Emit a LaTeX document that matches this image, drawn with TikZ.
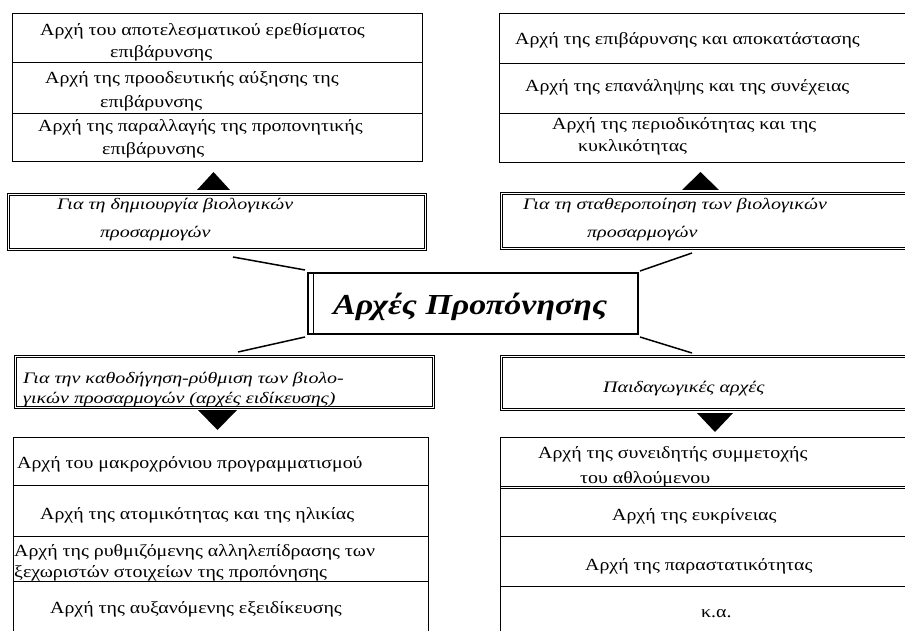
\documentclass[tikz,border=0pt]{standalone}
\usepackage{fontspec}
\setmainfont{Liberation Serif}
\newfontfamily\wideserif[FakeStretch=1.17]{Liberation Serif}
\newfontfamily\wideslant[FakeStretch=1.25]{Liberation Serif}
\newfontfamily\widetitle[FakeStretch=1.17]{Liberation Serif}
\newcommand\plainsz{\wideserif\fontsize{17pt}{20pt}\selectfont}
\newcommand\slantsz{\wideslant\fontsize{16pt}{20pt}\selectfont\itshape}
\newcommand\titlesz{\widetitle\fontsize{29pt}{34pt}\selectfont\bfseries\itshape}
\tikzset{
  cell/.style={draw, line width=0.8pt, anchor=north west, inner sep=0pt},
  frame/.style={draw, double, line width=0.8pt, double distance=1.3pt,
                anchor=north west, inner sep=0pt},
  core/.style={draw, line width=2pt, anchor=north west, inner sep=0pt},
  txt/.style={anchor=base west, inner sep=0pt, font=\plainsz},
  itxt/.style={anchor=base west, inner sep=0pt, font=\slantsz},
  spoke/.style={line width=1.5pt},
  pointer/.style={fill=black}
}
\begin{document}
\begin{tikzpicture}[x=1pt, y=-1pt]
\useasboundingbox (0,0) rectangle (905,631);
\clip (0,0) rectangle (905,631);

% upper left group: principles creating adaptations
\node[cell, minimum width=410pt, minimum height=49pt] (tl1) at (12,13) {};
\node[cell, minimum width=410pt, minimum height=51pt] (tl2) at (12,62) {};
\node[cell, minimum width=410pt, minimum height=48pt] (tl3) at (12,113) {};
\node[txt] (tl1a) at (40,36) {Αρχή του αποτελεσματικού ερεθίσματος};
\node[txt] (tl1b) at (110,58) {επιβάρυνσης};
\node[txt] (tl2a) at (45,84) {Αρχή της προοδευτικής αύξησης της};
\node[txt] (tl2b) at (100,108) {επιβάρυνσης};
\node[txt] (tl3a) at (38,132) {Αρχή της παραλλαγής της προπονητικής};
\node[txt] (tl3b) at (102,155) {επιβάρυνσης};

% upper right group: principles stabilising adaptations
\node[cell, minimum width=430pt, minimum height=50pt] (tr1) at (499,13) {};
\node[cell, minimum width=430pt, minimum height=50pt] (tr2) at (499,63) {};
\node[cell, minimum width=430pt, minimum height=49pt] (tr3) at (499,113) {};
\node[txt] (tr1a) at (515,45) {Αρχή της επιβάρυνσης και αποκατάστασης};
\node[txt] (tr2a) at (525,92) {Αρχή της επανάληψης και της συνέχειας};
\node[txt] (tr3a) at (552,130) {Αρχή της περιοδικότητας και της};
\node[txt] (tr3b) at (578,152) {κυκλικότητας};

% category frames
\node[frame, minimum width=417pt, minimum height=55pt] (ml) at (8,194) {};
\node[itxt] (mla) at (57,210) {Για τη δημιουργία βιολογικών};
\node[itxt] (mlb) at (100,238) {προσαρμογών};

\node[frame, minimum width=430pt, minimum height=55pt] (mr) at (501,193) {};
\node[itxt] (mra) at (523,210) {Για τη σταθεροποίηση των βιολογικών};
\node[itxt] (mrb) at (587,238) {προσαρμογών};

\node[frame, minimum width=418pt, minimum height=51pt] (bl) at (15,356) {};
\node[itxt] (bla) at (23,383) {Για την καθοδήγηση-ρύθμιση των βιολο-};
\node[itxt] (blb) at (23,403) {γικών προσαρμογών (αρχές ειδίκευσης)};

\node[frame, minimum width=430pt, minimum height=53pt] (br) at (501,356) {};
\node[itxt] (bra) at (603,392) {Παιδαγωγικές αρχές};

% central title
\node[core, minimum width=330pt, minimum height=61pt] (hub) at (307,272) {};
\draw[line width=0.8pt] ([xshift=6pt]hub.north west) -- ([xshift=6pt]hub.south west);
\node[anchor=base west, inner sep=0pt, font=\titlesz] (huba) at (333,314) {Αρχές Προπόνησης};

% spokes from the title
\coordinate (s1) at (233,257);
\coordinate (s2) at (692,253);
\coordinate (s3) at (238,352);
\coordinate (s4) at (692,353);
\draw[spoke] ([shift={(-2pt,2pt)}]hub.north west) -- (s1);
\draw[spoke] ([shift={(1pt,1pt)}]hub.north east) -- (s2);
\draw[spoke] ([shift={(-2pt,-2pt)}]hub.south west) -- (s3);
\draw[spoke] ([shift={(1pt,-2pt)}]hub.south east) -- (s4);

% pointers
\fill[pointer] (197,190) -- (213.5,172) -- (230,190) -- cycle;
\fill[pointer] (682,190) -- (700.5,172) -- (719,190) -- cycle;
\fill[pointer] (198,410) -- (217.5,430) -- (237,410) -- cycle;
\fill[pointer] (697,413) -- (715,432) -- (733,413) -- cycle;

% lower left group: specialisation principles
\node[cell, minimum width=415pt, minimum height=48pt] (bl1) at (13,437) {};
\node[cell, minimum width=415pt, minimum height=51pt] (bl2) at (13,485) {};
\node[cell, minimum width=415pt, minimum height=45pt] (bl3) at (13,536) {};
\node[cell, minimum width=415pt, minimum height=60pt] (bl4) at (13,581) {};
\node[txt] (bl1a) at (17,468) {Αρχή του μακροχρόνιου προγραμματισμού};
\node[txt] (bl2a) at (40,519) {Αρχή της ατομικότητας και της ηλικίας};
\node[txt] (bl3a) at (14,556) {Αρχή της ρυθμιζόμενης αλληλεπίδρασης των};
\node[txt] (bl3b) at (14,577) {ξεχωριστών στοιχείων της προπόνησης};
\node[txt] (bl4a) at (50,613) {Αρχή της αυξανόμενης εξειδίκευσης};

% lower right group: pedagogical principles
\node[cell, minimum width=430pt, minimum height=49pt] (br1) at (500,437) {};
\node[cell, minimum width=430pt, minimum height=50pt] (br2) at (500,486) {};
\node[cell, minimum width=430pt, minimum height=50pt] (br3) at (500,536) {};
\node[cell, minimum width=430pt, minimum height=60pt] (br4) at (500,586) {};
\draw[line width=0.8pt] ([yshift=-2.2pt]br2.north west) -- ([yshift=-2.2pt]br2.north east);
\node[txt] (br1a) at (538,458) {Αρχή της συνειδητής συμμετοχής};
\node[txt] (br1b) at (580,483) {του αθλούμενου};
\node[txt] (br2a) at (612,520) {Αρχή της ευκρίνειας};
\node[txt] (br3a) at (585,570) {Αρχή της παραστατικότητας};
\node[txt] (br4a) at (701,617) {κ.α.};
\end{tikzpicture}
\end{document}
